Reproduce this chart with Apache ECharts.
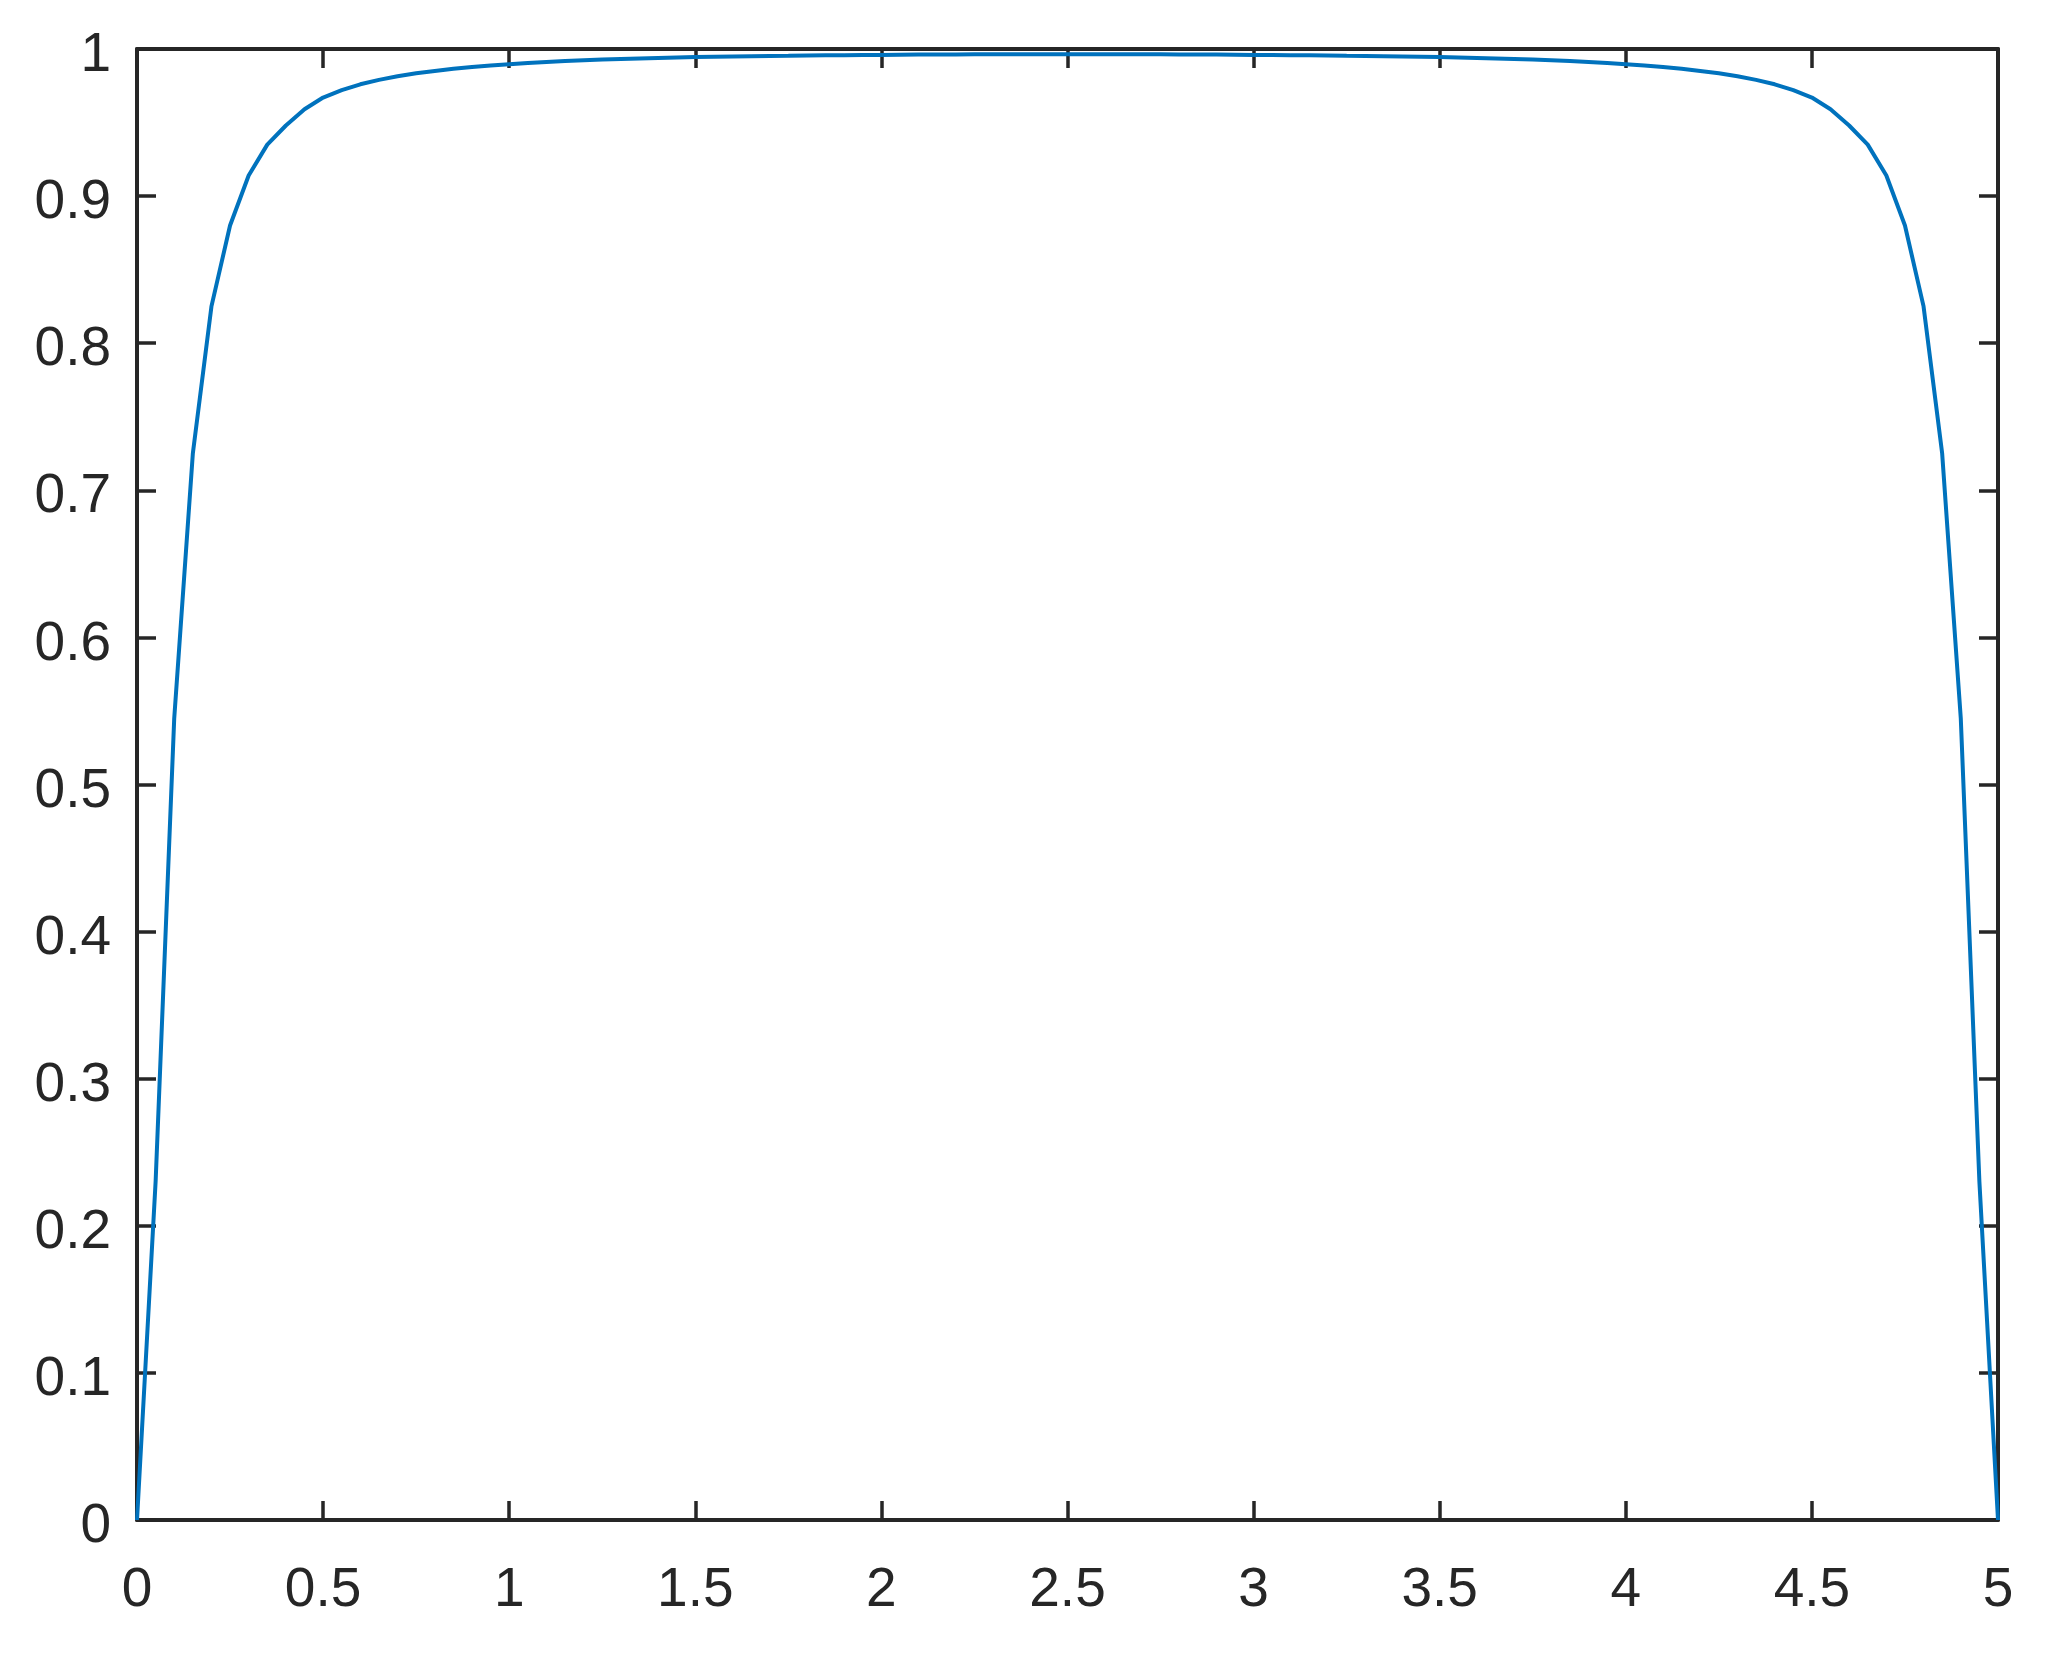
<!DOCTYPE html>
<html>
<head>
<meta charset="utf-8">
<script src="https://cdn.jsdelivr.net/npm/echarts@6/dist/echarts.min.js"></script>
<style>
  html, body { margin: 0; padding: 0; background: #fff; }
  #chart { width: 2061px; height: 1654px; }
</style>
</head>
<body>
<div id="chart"></div>
<script>
// sample positions along x (step 0.05)
const xValues = [
  0, 0.05, 0.1, 0.15, 0.2, 0.25, 0.3, 0.35, 0.4, 0.45,
  0.5, 0.55, 0.6, 0.65, 0.7, 0.75, 0.8, 0.85, 0.9, 0.95,
  1, 1.05, 1.1, 1.15, 1.2, 1.25, 1.3, 1.35, 1.4, 1.45,
  1.5, 1.55, 1.6, 1.65, 1.7, 1.75, 1.8, 1.85, 1.9, 1.95,
  2, 2.05, 2.1, 2.15, 2.2, 2.25, 2.3, 2.35, 2.4, 2.45,
  2.5, 2.55, 2.6, 2.65, 2.7, 2.75, 2.8, 2.85, 2.9, 2.95,
  3, 3.05, 3.1, 3.15, 3.2, 3.25, 3.3, 3.35, 3.4, 3.45,
  3.5, 3.55, 3.6, 3.65, 3.7, 3.75, 3.8, 3.85, 3.9, 3.95,
  4, 4.05, 4.1, 4.15, 4.2, 4.25, 4.3, 4.35, 4.4, 4.45,
  4.5, 4.55, 4.6, 4.65, 4.7, 4.75, 4.8, 4.85, 4.9, 4.95,
  5
];

// curve values
const yValues = [
  0, 0.23, 0.545, 0.725, 0.825, 0.88, 0.914, 0.935, 0.948, 0.959,
  0.967, 0.972, 0.976, 0.979, 0.9815, 0.9835, 0.985, 0.9865, 0.9877, 0.9888,
  0.9897, 0.9905, 0.9912, 0.9918, 0.9923, 0.9928, 0.9932, 0.9936, 0.9939, 0.9942,
  0.9945, 0.9947, 0.9949, 0.9951, 0.9953, 0.9954, 0.9956, 0.9957, 0.9958, 0.9959,
  0.996, 0.9961, 0.9962, 0.9963, 0.9963, 0.9964, 0.9964, 0.9965, 0.9965, 0.9965,
  0.9965, 0.9965, 0.9965, 0.9965, 0.9964, 0.9964, 0.9963, 0.9963, 0.9962, 0.9961,
  0.996, 0.9959, 0.9958, 0.9957, 0.9956, 0.9954, 0.9953, 0.9951, 0.9949, 0.9947,
  0.9945, 0.9942, 0.9939, 0.9936, 0.9932, 0.9928, 0.9923, 0.9918, 0.9912, 0.9905,
  0.9897, 0.9888, 0.9877, 0.9865, 0.985, 0.9835, 0.9815, 0.979, 0.976, 0.972,
  0.967, 0.959, 0.948, 0.935, 0.914, 0.88, 0.825, 0.725, 0.545, 0.23,
  0
];

const xTicks = [0, 0.5, 1, 1.5, 2, 2.5, 3, 3.5, 4, 4.5, 5];
const yTicks = [0, 0.1, 0.2, 0.3, 0.4, 0.5, 0.6, 0.7, 0.8, 0.9, 1];

const axisColor = '#262626';
const font = '"Liberation Sans", Arial, Helvetica, sans-serif';

const chart = echarts.init(document.getElementById('chart'), null, { renderer: 'canvas' });

const frameAxis = {
  type: 'value',
  axisLine: { show: true, onZero: false, lineStyle: { color: axisColor, width: 4 } },
  axisTick: { show: true, inside: true, length: 19, lineStyle: { color: axisColor, width: 3.5 } },
  splitLine: { show: false }
};

const option = {
  animation: false,
  backgroundColor: '#ffffff',
  grid: { left: 137, right: 63, top: 49, bottom: 134, containLabel: false },
  xAxis: [
    Object.assign({}, frameAxis, {
      position: 'bottom',
      min: xTicks[0], max: xTicks[xTicks.length - 1], interval: 0.5,
      axisLabel: {
        show: true, margin: 43, color: axisColor, fontSize: 55, fontFamily: font,
        showMinLabel: true, showMaxLabel: true
      }
    }),
    Object.assign({}, frameAxis, {
      position: 'top',
      min: xTicks[0], max: xTicks[xTicks.length - 1], interval: 0.5,
      axisLabel: { show: false }
    })
  ],
  yAxis: [
    Object.assign({}, frameAxis, {
      position: 'left',
      min: yTicks[0], max: yTicks[yTicks.length - 1], interval: 0.1,
      axisLabel: {
        show: true, margin: 26, color: axisColor, fontSize: 55, fontFamily: font,
        showMinLabel: true, showMaxLabel: true,
        formatter: v => '{t|' + String(Math.round(v * 10) / 10) + '}',
        rich: {
          t: { fontSize: 55, fontFamily: font, color: axisColor, padding: [14, 0, 0, 0] }
        }
      }
    }),
    Object.assign({}, frameAxis, {
      position: 'right',
      min: yTicks[0], max: yTicks[yTicks.length - 1], interval: 0.1,
      axisLabel: { show: false }
    })
  ],
  series: [
    {
      type: 'line',
      xAxisIndex: 0,
      yAxisIndex: 0,
      data: xValues.map((x, i) => [x, yValues[i]]),
      showSymbol: false,
      smooth: false,
      lineStyle: { color: '#0072BD', width: 4 },
      z: 1
    }
  ]
};

chart.setOption(option);
</script>
</body>
</html>
